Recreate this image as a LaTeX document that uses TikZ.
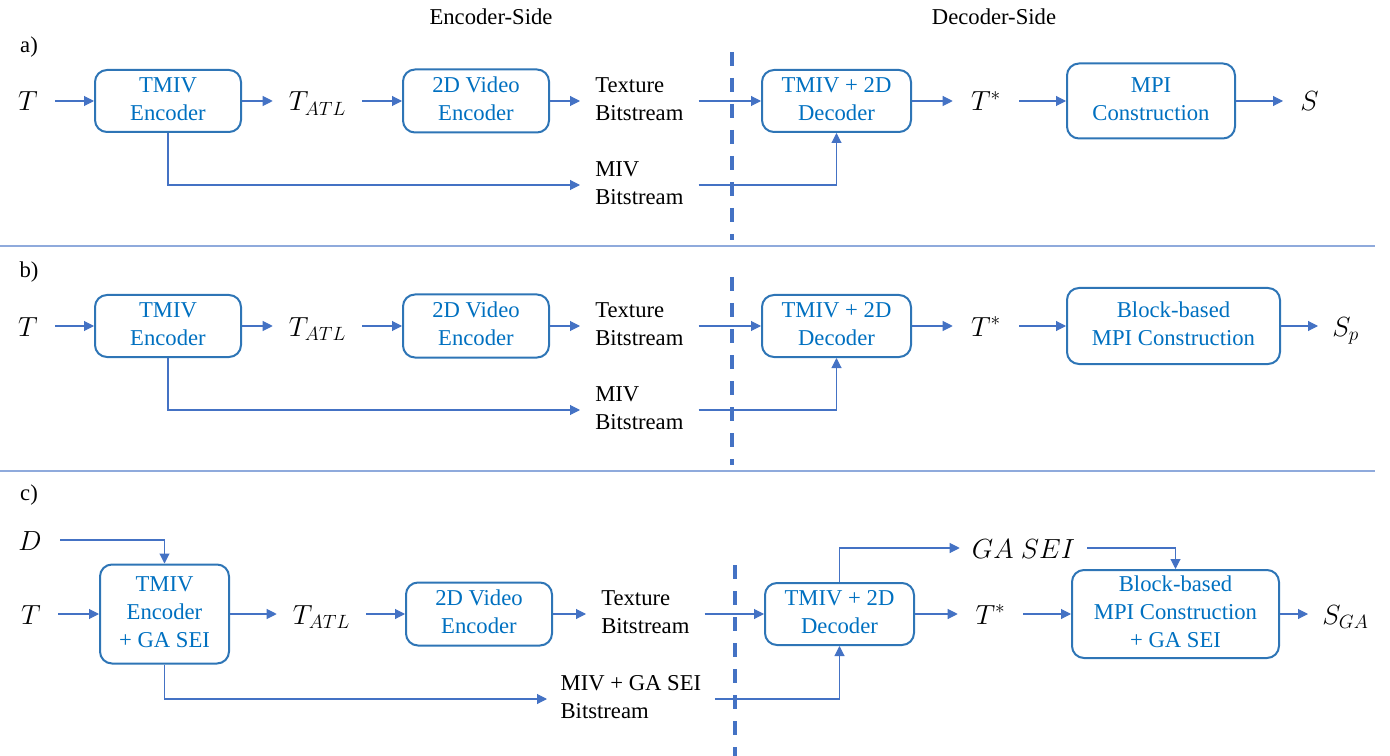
\documentclass[tikz,border=0pt]{standalone}
\usepackage{fontspec}
\setmainfont{Liberation Serif}
\newfontfamily\tnr{Liberation Serif}
\usetikzlibrary{arrows.meta}
\definecolor{boxblue}{HTML}{2E75B6}
\definecolor{txtblue}{HTML}{0070C0}
\definecolor{lineblue}{HTML}{4472C4}
\definecolor{seplight}{HTML}{8FAADC}
\newcommand{\mlc}[1]{\tnr\fontsize{17}{21}\selectfont\begin{tabular}{@{}c@{}}#1\end{tabular}}
\newcommand{\mll}[1]{\tnr\fontsize{17}{21}\selectfont\begin{tabular}{@{}l@{}}#1\end{tabular}}
\tikzset{
  blk/.style={draw=boxblue, line width=1.5pt, rounded corners=9pt, text=txtblue,
              font=\tnr\fontsize{17}{21}\selectfont, inner sep=0pt},
  bsz/.style 2 args={minimum width=#1*0.75pt, minimum height=#2*0.75pt},
  conn/.style={draw=lineblue, line width=0.8pt, -{Triangle[length=7.5pt,width=7.5pt]}},
  mth/.style={font=\fontsize{22}{26}\selectfont, text height=15pt, text depth=0pt,
              inner ysep=0pt, inner xsep=0pt},
  lbl/.style={font=\tnr\fontsize{17}{21}\selectfont, inner ysep=0pt},
  sep/.style={draw=seplight, line width=0.9pt},
  vdash/.style={draw=lineblue, line width=3pt, dash pattern=on 10.5pt off 9pt},
}
\begin{document}
\begin{tikzpicture}[x=0.75pt,y=-0.75pt]
\useasboundingbox (0,0) rectangle (1390,756);

% headings
\node[lbl] (encside) at (491,17) {Encoder-Side};
\node[lbl] (decside) at (994,17) {Decoder-Side};

% separators and dashed lines
\draw[sep] (0,246) -- (1375,246);
\draw[sep] (0,471) -- (1375,471);
\draw[vdash] (732,52) -- (732,240);
\draw[vdash] (732,277) -- (732,465);
\draw[vdash] (735,565) -- (735,756);

% ---------------- a) ----------------
\node[lbl] (la) at (29,47) {a)};
\node[mth, anchor=east, inner xsep=12.75pt] (Ta) at (55,101) {$T$};
\node[blk, bsz={146}{62}] (encA) at (168,101) {\mlc{TMIV\\Encoder}};
\node[mth, minimum width=89*0.75pt] (TatlA) at (317.5,101) {$T_{ATL}$};
\node[blk, bsz={146}{63}] (vidA) at (476,101) {\mlc{2D Video\\Encoder}};
\node[lbl, anchor=west, inner xsep=11.25pt] (texA) at (580,101) {\mll{Texture\\Bitstream}};
\node[lbl, anchor=west, inner xsep=11.25pt] (mivA) at (580,185) {\mll{MIV\\Bitstream}};
\node[blk, bsz={149}{62}] (decA) at (836.5,101) {\mlc{TMIV + 2D\\Decoder}};
\node[mth, minimum width=66*0.75pt] (TsA) at (986,101) {$T^{*}$};
\node[blk, bsz={168}{75}] (mpiA) at (1151,101) {\mlc{MPI\\Construction}};
\node[mth, anchor=west, inner xsep=12.75pt] (SA) at (1283,101) {$S$};

\draw[conn] (Ta.east) -- (encA.west);
\draw[conn] (encA.east) -- (TatlA.west);
\draw[conn] (TatlA.east) -- (vidA.west);
\draw[conn] (vidA.east) -- (texA.west);
\draw[conn] (texA.east) -- (decA.west);
\draw[conn] (decA.east) -- (TsA.west);
\draw[conn] (TsA.east) -- (mpiA.west);
\draw[conn] (mpiA.east) -- (SA.west);
\draw[conn] (encA.south) |- (mivA.west);
\draw[conn] (mivA.east) -| (decA.south);

% ---------------- b) ----------------
\node[lbl] (lb) at (29,272) {b)};
\node[mth, anchor=east, inner xsep=12.75pt] (Tb) at (55,326) {$T$};
\node[blk, bsz={146}{62}] (encB) at (168,326) {\mlc{TMIV\\Encoder}};
\node[mth, minimum width=89*0.75pt] (TatlB) at (317.5,326) {$T_{ATL}$};
\node[blk, bsz={146}{63}] (vidB) at (476,326) {\mlc{2D Video\\Encoder}};
\node[lbl, anchor=west, inner xsep=11.25pt] (texB) at (580,326) {\mll{Texture\\Bitstream}};
\node[lbl, anchor=west, inner xsep=11.25pt] (mivB) at (580,410) {\mll{MIV\\Bitstream}};
\node[blk, bsz={149}{62}] (decB) at (836.5,326) {\mlc{TMIV + 2D\\Decoder}};
\node[mth, minimum width=66*0.75pt] (TsB) at (986,326) {$T^{*}$};
\node[blk, bsz={213}{76}] (mpiB) at (1173.5,326) {\mlc{Block-based\\MPI Construction}};
\node[mth, anchor=west, inner xsep=10.5pt] (SB) at (1318,326) {$S_{p}$};

\draw[conn] (Tb.east) -- (encB.west);
\draw[conn] (encB.east) -- (TatlB.west);
\draw[conn] (TatlB.east) -- (vidB.west);
\draw[conn] (vidB.east) -- (texB.west);
\draw[conn] (texB.east) -- (decB.west);
\draw[conn] (decB.east) -- (TsB.west);
\draw[conn] (TsB.east) -- (mpiB.west);
\draw[conn] (mpiB.east) -- (SB.west);
\draw[conn] (encB.south) |- (mivB.west);
\draw[conn] (mivB.east) -| (decB.south);

% ---------------- c) ----------------
\node[lbl] (lc) at (29,495) {c)};
\node[mth, anchor=east, inner xsep=13.5pt] (Dc) at (60,540) {$D$};
\node[mth, anchor=east, inner xsep=12.75pt] (Tc) at (58,614) {$T$};
\node[blk, bsz={129}{99}] (encC) at (164.5,614) {\mlc{TMIV\\Encoder\\+ GA SEI}};
\node[mth, minimum width=89*0.75pt] (TatlC) at (321.5,614) {$T_{ATL}$};
\node[blk, bsz={146}{63}] (vidC) at (479,614) {\mlc{2D Video\\Encoder}};
\node[lbl, anchor=west, inner xsep=11.25pt] (texC) at (586,614) {\mll{Texture\\Bitstream}};
\node[lbl, anchor=west, inner xsep=10pt] (mivC) at (547,699) {\mll{MIV + GA SEI\\Bitstream}};
\node[blk, bsz={149}{62}] (decC) at (839.5,614) {\mlc{TMIV + 2D\\Decoder}};
\node[mth, minimum width=127*0.75pt] (gasei) at (1023.5,548) {$GA\ SEI$};
\node[mth, minimum width=65*0.75pt] (TsC) at (990.5,614) {$T^{*}$};
\node[blk, bsz={207}{88}] (mpiC) at (1175.5,614) {\mlc{Block-based\\MPI Construction\\+ GA SEI}};
\node[mth, anchor=west, inner xsep=10.5pt] (SC) at (1308,614) {$S_{GA}$};

\draw[conn] (Dc.east) -| (encC.north);
\draw[conn] (Tc.east) -- (encC.west);
\draw[conn] (encC.east) -- (TatlC.west);
\draw[conn] (TatlC.east) -- (vidC.west);
\draw[conn] (vidC.east) -- (texC.west);
\draw[conn] (texC.east) -- (decC.west);
\draw[conn] (decC.east) -- (TsC.west);
\draw[conn] (TsC.east) -- (mpiC.west);
\draw[conn] (mpiC.east) -- (SC.west);
\draw[conn] (decC.north) |- (gasei.west);
\draw[conn] (gasei.east) -| (mpiC.north);
\draw[conn] (encC.south) |- (mivC.west);
\draw[conn] (mivC.east) -| (decC.south);
\end{tikzpicture}
\end{document}
